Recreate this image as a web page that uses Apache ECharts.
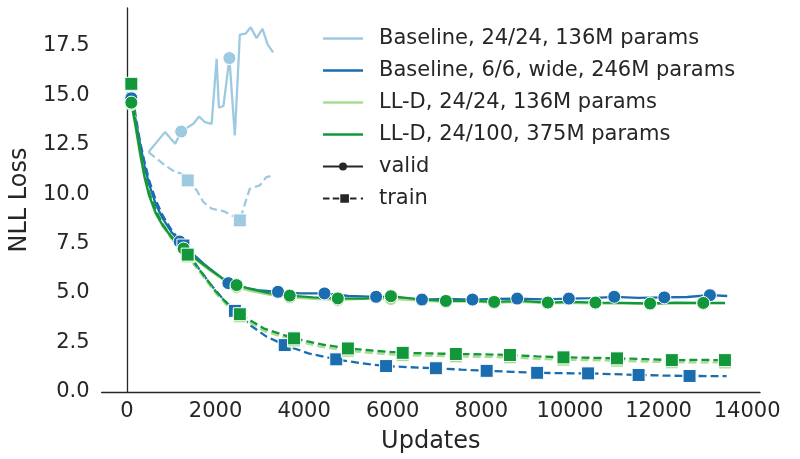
<!DOCTYPE html>
<html>
<head>
<meta charset="utf-8">
<script src="https://cdn.jsdelivr.net/npm/echarts@6/dist/echarts.min.js"></script>
<style>html,body{margin:0;padding:0;background:#fff}#chart{width:800px;height:459px}</style>
</head>
<body>
<div id="chart"></div>
<script>
// ---- data ----
const xTicks = [0, 2000, 4000, 6000, 8000, 10000, 12000, 14000];
const yTicks = [0, 2.5, 5, 7.5, 10, 12.5, 15, 17.5];

const seriesNames = ['Baseline, 24/24, 136M params', 'Baseline, 6/6, wide, 246M params', 'LL-D, 24/24, 136M params', 'LL-D, 24/100, 375M params'];

// Baseline 24/24 (light blue)
const lbValidX = [488, 860, 1090, 1225, 1500, 1630, 1762, 1912, 2025, 2076, 2180, 2313, 2436, 2549, 2677, 2794, 2925, 3060, 3178, 3300];
const lbValidY = [12.12, 13.13, 12.54, 13.16, 13.55, 13.92, 13.63, 13.55, 16.83, 14.37, 14.45, 16.87, 12.96, 18.05, 18.1, 18.43, 17.88, 18.34, 17.55, 17.16];
const lbValidMarks = [1225, 2313];
const lbTrainX = [488, 862, 1087, 1237, 1372, 1575, 1725, 1912, 2175, 2362, 2549, 2700, 2774, 2999, 3150, 3300];
const lbTrainY = [12.12, 11.45, 11.11, 11.03, 10.69, 10.19, 9.6, 9.26, 9.14, 8.93, 8.67, 9.77, 10.27, 10.44, 10.86, 10.94];
const lbTrainMarks = [1372, 2549];

// Baseline 6/6 wide (dark blue)
const dbValidX = [100, 200, 300, 400, 500, 650, 800, 1000, 1190, 1450, 1750, 2000, 2290, 2600, 2950, 3410, 3900, 4460, 5000, 5625, 6100, 6660, 7200, 7800, 8300, 8810, 9400, 9975, 10500, 11000, 11550, 12130, 12650, 13160, 13550];
const dbValidY = [14.85, 13.7, 12.5, 11.4, 10.5, 9.5, 8.8, 8.1, 7.6, 7.05, 6.45, 6.0, 5.5, 5.3, 5.15, 5.06, 4.98, 4.98, 4.85, 4.81, 4.75, 4.67, 4.7, 4.67, 4.7, 4.72, 4.68, 4.72, 4.74, 4.81, 4.76, 4.78, 4.8, 4.89, 4.85];
const dbValidMarks = [100, 1190, 2290, 3410, 4460, 5625, 6660, 7800, 8810, 9975, 11000, 12130, 13160];
const dbTrainX = [100, 200, 300, 400, 500, 650, 800, 1000, 1275, 1600, 1900, 2150, 2437, 2800, 3150, 3562, 4100, 4725, 5300, 5850, 6400, 6975, 7550, 8120, 8700, 9260, 9830, 10410, 10980, 11550, 12120, 12700, 13536];
const dbTrainY = [15.5, 13.9, 12.6, 11.6, 10.7, 9.7, 8.95, 8.2, 7.4, 6.3, 5.4, 4.75, 4.1, 3.35, 2.8, 2.37, 1.95, 1.65, 1.45, 1.31, 1.25, 1.2, 1.13, 1.07, 1.02, 0.97, 0.95, 0.94, 0.9, 0.86, 0.83, 0.81, 0.8];
const dbTrainMarks = [100, 1275, 2437, 3562, 4725, 5850, 6975, 8120, 9260, 10410, 11550, 12700];

// LL-D 24/24 (light green) and LL-D 24/100 (dark green)
const gValidX = [100, 200, 300, 400, 500, 650, 800, 1000, 1280, 1600, 1900, 2150, 2475, 2800, 3200, 3675, 4200, 4760, 5350, 5960, 6600, 7200, 7750, 8290, 8900, 9500, 10000, 10575, 11200, 11810, 12400, 13010, 13500];
const gValidMarks = [100, 1280, 2475, 3675, 4760, 5960, 7200, 8290, 9500, 10575, 11810, 13010];
const lgValidY = [14.55, 13.3, 11.95, 10.8, 9.9, 9.0, 8.4, 7.8, 7.2, 6.6, 6.1, 5.7, 5.3, 5.1, 4.92, 4.78, 4.7, 4.65, 4.7, 4.7, 4.62, 4.55, 4.58, 4.5, 4.55, 4.48, 4.5, 4.47, 4.46, 4.44, 4.48, 4.46, 4.46];
const dgValidY = [14.62, 13.4, 12.05, 10.85, 9.95, 9.05, 8.45, 7.85, 7.25, 6.65, 6.15, 5.75, 5.4, 5.2, 5.0, 4.87, 4.78, 4.73, 4.72, 4.84, 4.68, 4.6, 4.62, 4.55, 4.6, 4.52, 4.55, 4.52, 4.5, 4.47, 4.52, 4.5, 4.5];
const gTrainX = [100, 200, 300, 400, 500, 650, 800, 1000, 1372, 1700, 2000, 2250, 2549, 3100, 3773, 4400, 4988, 5600, 6225, 6800, 7424, 8050, 8646, 9250, 9854, 10450, 11062, 11700, 12300, 12900, 13498];
const gTrainMarks = [100, 1372, 2549, 3773, 4988, 6225, 7424, 8646, 9854, 11062, 12300, 13498];
const lgTrainY = [15.5, 13.5, 12.1, 10.9, 10.0, 9.1, 8.4, 7.75, 6.85, 5.9, 5.0, 4.4, 3.82, 3.08, 2.6, 2.28, 2.08, 1.96, 1.86, 1.83, 1.8, 1.78, 1.75, 1.68, 1.63, 1.61, 1.58, 1.54, 1.5, 1.5, 1.49];
const dgTrainY = [15.57, 13.6, 12.2, 11.0, 10.1, 9.2, 8.5, 7.85, 6.94, 6.0, 5.1, 4.5, 3.93, 3.2, 2.71, 2.4, 2.2, 2.08, 1.98, 1.95, 1.92, 1.9, 1.87, 1.8, 1.75, 1.73, 1.70, 1.66, 1.61, 1.62, 1.61];

// ---- styling ----
const colors = ['#9ecae1', '#1a6dae', '#a8dc90', '#12983a'];
const TXT = '#262626';
const FONT = 'DejaVu Sans';

function makeSeries(name, color, xs, ys, marks, kind) {
  const markSet = new Set(marks);
  const shape = kind === 'valid' ? 'circle' : 'rect';
  return {
    name: name,
    type: 'line',
    color: color,
    showSymbol: true,
    symbolSize: 13,
    lineStyle: { width: 2.3, color: color, type: kind === 'valid' ? 'solid' : [8, 4] },
    itemStyle: { color: color, borderColor: '#ffffff', borderWidth: 1 },
    emphasis: { disabled: true },
    animation: false,
    data: xs.map((x, i) => ({ value: [x, ys[i]], symbol: markSet.has(x) ? shape : 'none' }))
  };
}

const series = [
  makeSeries(seriesNames[0], colors[0], lbValidX, lbValidY, lbValidMarks, 'valid'),
  makeSeries(seriesNames[0], colors[0], lbTrainX, lbTrainY, lbTrainMarks, 'train'),
  makeSeries(seriesNames[1], colors[1], dbValidX, dbValidY, dbValidMarks, 'valid'),
  makeSeries(seriesNames[1], colors[1], dbTrainX, dbTrainY, dbTrainMarks, 'train'),
  makeSeries(seriesNames[2], colors[2], gValidX, lgValidY, gValidMarks, 'valid'),
  makeSeries(seriesNames[2], colors[2], gTrainX, lgTrainY, gTrainMarks, 'train'),
  makeSeries(seriesNames[3], colors[3], gValidX, dgValidY, gValidMarks, 'valid'),
  makeSeries(seriesNames[3], colors[3], gTrainX, dgTrainY, gTrainMarks, 'train'),
  { name: 'valid', type: 'line', color: TXT, data: [] },
  { name: 'train', type: 'line', color: TXT, data: [] }
];

const lineIcon = 'path://M0,0H40V2.4H0Z';
const validIcon = 'path://M0,3H40V5H0Z M16,4A4,4 0 1 1 24,4A4,4 0 1 1 16,4Z';
const trainIcon = 'path://M0,3H6V5H0Z M9,3H15V5H9Z M16,0H24V8H16Z M25,3H31V5H25Z M35,3H37V5H35Z';
const noBorder = { borderWidth: 0 };

const chart = echarts.init(document.getElementById('chart'), null, { renderer: 'canvas' });
chart.setOption({
  animation: false,
  backgroundColor: '#ffffff',
  textStyle: { fontFamily: FONT, color: TXT },
  grid: { left: 100, right: 40, top: 8, bottom: 67 },
  legend: {
    orient: 'vertical',
    left: 318,
    top: 23,
    itemWidth: 40,
    itemHeight: 20,
    itemGap: 11,
    selectedMode: false,
    itemStyle: noBorder,
    textStyle: { fontFamily: FONT, fontSize: 21, color: TXT, lineHeight: 20, padding: [0, 0, 0, 11] },
    data: [
      { name: seriesNames[0], icon: lineIcon, itemStyle: noBorder },
      { name: seriesNames[1], icon: lineIcon, itemStyle: noBorder },
      { name: seriesNames[2], icon: lineIcon, itemStyle: noBorder },
      { name: seriesNames[3], icon: lineIcon, itemStyle: noBorder },
      { name: 'valid', icon: validIcon },
      { name: 'train', icon: trainIcon }
    ]
  },
  xAxis: {
    type: 'value',
    min: -570,
    max: 14290,
    name: 'Updates',
    nameLocation: 'middle',
    nameGap: 38,
    nameTextStyle: { fontFamily: FONT, fontSize: 24, color: TXT },
    axisLine: { show: true, lineStyle: { color: TXT, width: 1.3 } },
    axisTick: { show: false },
    splitLine: { show: false },
    axisLabel: { customValues: xTicks, fontFamily: FONT, fontSize: 21, color: TXT, margin: 9, formatter: v => String(v) }
  },
  yAxis: {
    type: 'value',
    min: 0,
    max: 19.4,
    name: 'NLL Loss',
    nameLocation: 'middle',
    nameGap: 65,
    nameTextStyle: { fontFamily: FONT, fontSize: 24, color: TXT },
    axisLine: { show: true, lineStyle: { color: TXT, width: 1.3 } },
    axisTick: { show: false },
    splitLine: { show: false },
    axisLabel: { customValues: yTicks, fontFamily: FONT, fontSize: 21, color: TXT, margin: 12, formatter: v => v.toFixed(1) }
  },
  series: series
});
</script>
</body>
</html>
